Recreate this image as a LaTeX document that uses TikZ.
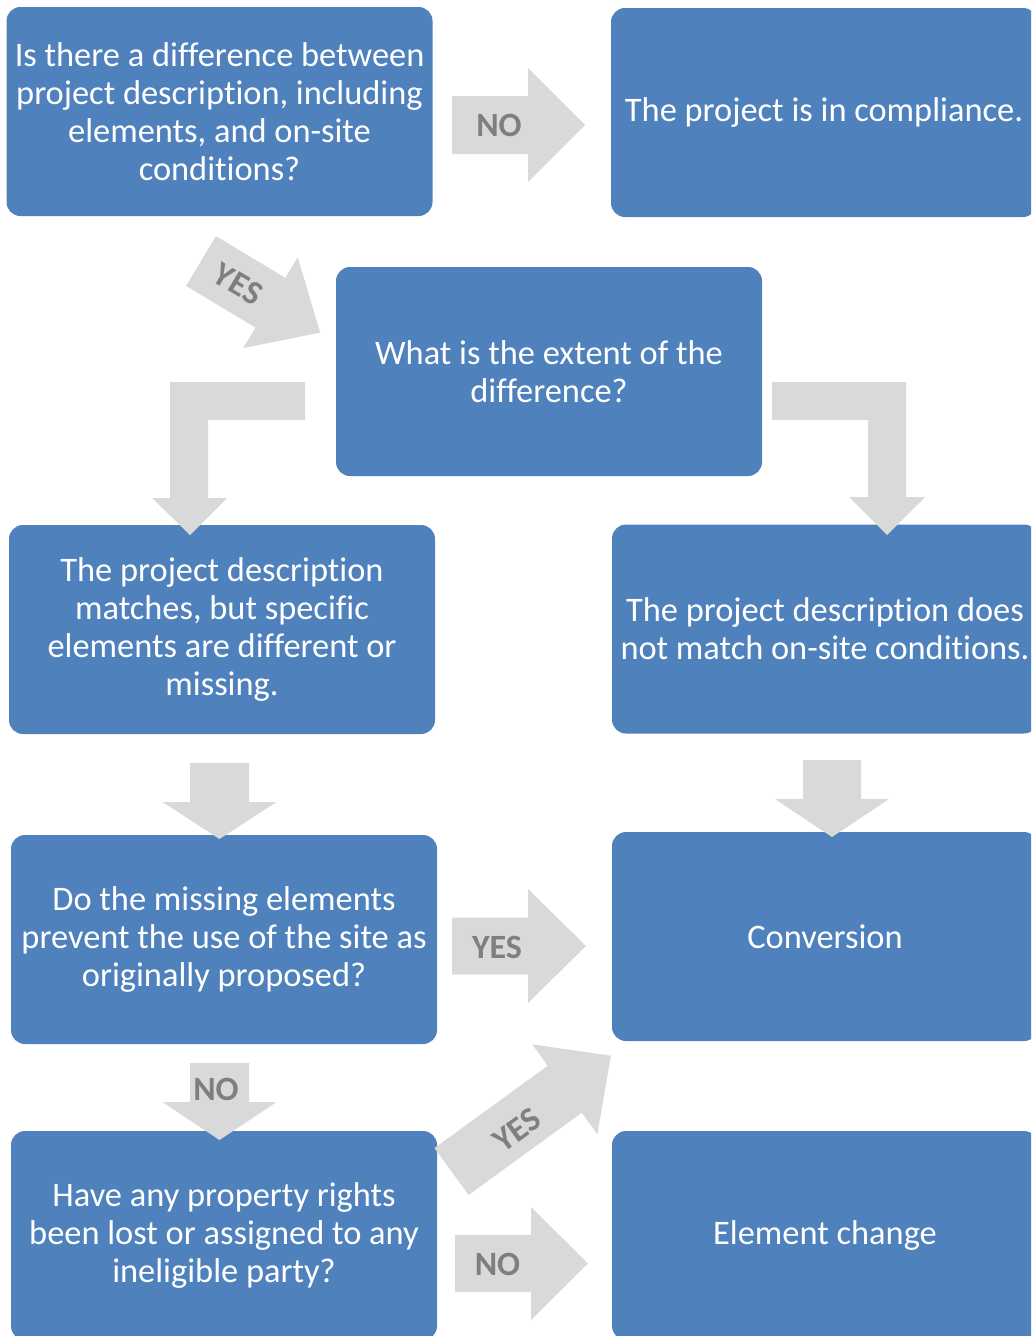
\documentclass[tikz,border=0pt]{standalone}
\usepackage{fontspec}
\setmainfont{Carlito}[Ligatures=NoCommon]
\definecolor{boxblue}{RGB}{79,129,189}
\definecolor{arrowgray}{RGB}{217,217,217}
\definecolor{labgray}{RGB}{127,127,127}
\newcommand{\boxfont}{\fontsize{34.4}{38}\selectfont}
\newcommand{\labfont}{\fontsize{34}{38}\selectfont\bfseries}
% #1 x, #2 y (tail centre), #3 angle, #4 length, #5 shaft half width, #6 head half width, #7 head length
\newcommand{\blkarrow}[7]{%
  \fill[arrowgray, shift={(#1,#2)}, rotate=#3]
    (0,-#5) -- (#4-#7,-#5) -- (#4-#7,-#6) -- (#4,0) -- (#4-#7,#6) -- (#4-#7,#5) -- (0,#5) -- cycle;}
\begin{document}
\begin{tikzpicture}[x=1pt,y=-1pt,
  flowbox/.style={fill=boxblue, rounded corners=14, minimum width=426, minimum height=209,
    text=white, align=center, inner sep=0pt, font=\boxfont},
  lab/.style={text=labgray, font=\labfont, inner sep=0pt}]
\useasboundingbox (0,0) rectangle (1031,1336);
\begin{scope}
\clip (0,0) rectangle (1031,1336);
% boxes
\node[flowbox] (b1) at (219.5,111.5) {Is there a difference between\\project description, including\\elements, and on-site\\conditions?};
\node[flowbox] (b2) at (824,112.5) {The project is in compliance.};
\node[flowbox] (b3) at (549,371.5) {What is the extent of the\\difference?};
\node[flowbox] (b4) at (222,629.5) {The project description\\matches, but specific\\elements are different or\\missing.};
\node[flowbox] (b5) at (825,629) {The project description does\\not match on-site conditions.};
\node[flowbox] (b6) at (224,939.5) {Do the missing elements\\prevent the use of the site as\\originally proposed?};
\node[flowbox] (b7) at (825,936.5) {Conversion};
\node[flowbox] (b8) at (224,1235.5) {Have any property rights\\been lost or assigned to any\\ineligible party?};
\node[flowbox] (b9) at (825,1235.5) {Element change};
% straight block arrows
\blkarrow{452}{125}{0}{133}{29}{57}{57}
\blkarrow{452}{946}{0}{134}{28.5}{57}{58}
\blkarrow{455}{1263.5}{0}{133}{28.5}{56.5}{57}
\blkarrow{219.5}{763}{-90}{76}{29.5}{57}{37}
\blkarrow{219.5}{1063}{-90}{77}{29.5}{57}{38}
\blkarrow{832}{760}{-90}{77}{29}{57}{38}
% diagonal block arrows
\blkarrow{201}{261}{-31}{139}{29}{53}{58}
\blkarrow{451.5}{1171.5}{36}{197}{29}{55.5}{57}
% bent arrows
\fill[arrowgray] (305,382) -- (170,382) -- (170,498) -- (152,498) -- (190,535) -- (227,498) -- (208,498) -- (208,420) -- (305,420) -- cycle;
\fill[arrowgray] (772,382) -- (906,382) -- (906,497) -- (925,497) -- (887,535) -- (849,497) -- (868,497) -- (868,420) -- (772,420) -- cycle;
% labels
\node[lab] (l1) at (499,125) {NO};
\node[lab] (l2) at (497,947) {YES};
\node[lab] (l3) at (497.5,1264) {NO};
\node[lab] (l4) at (216,1089) {NO};
\node[lab, rotate=-31] (l5) at (238,284) {YES};
\node[lab, rotate=36] (l6) at (517,1130) {YES};
\end{scope}
\end{tikzpicture}
\end{document}
